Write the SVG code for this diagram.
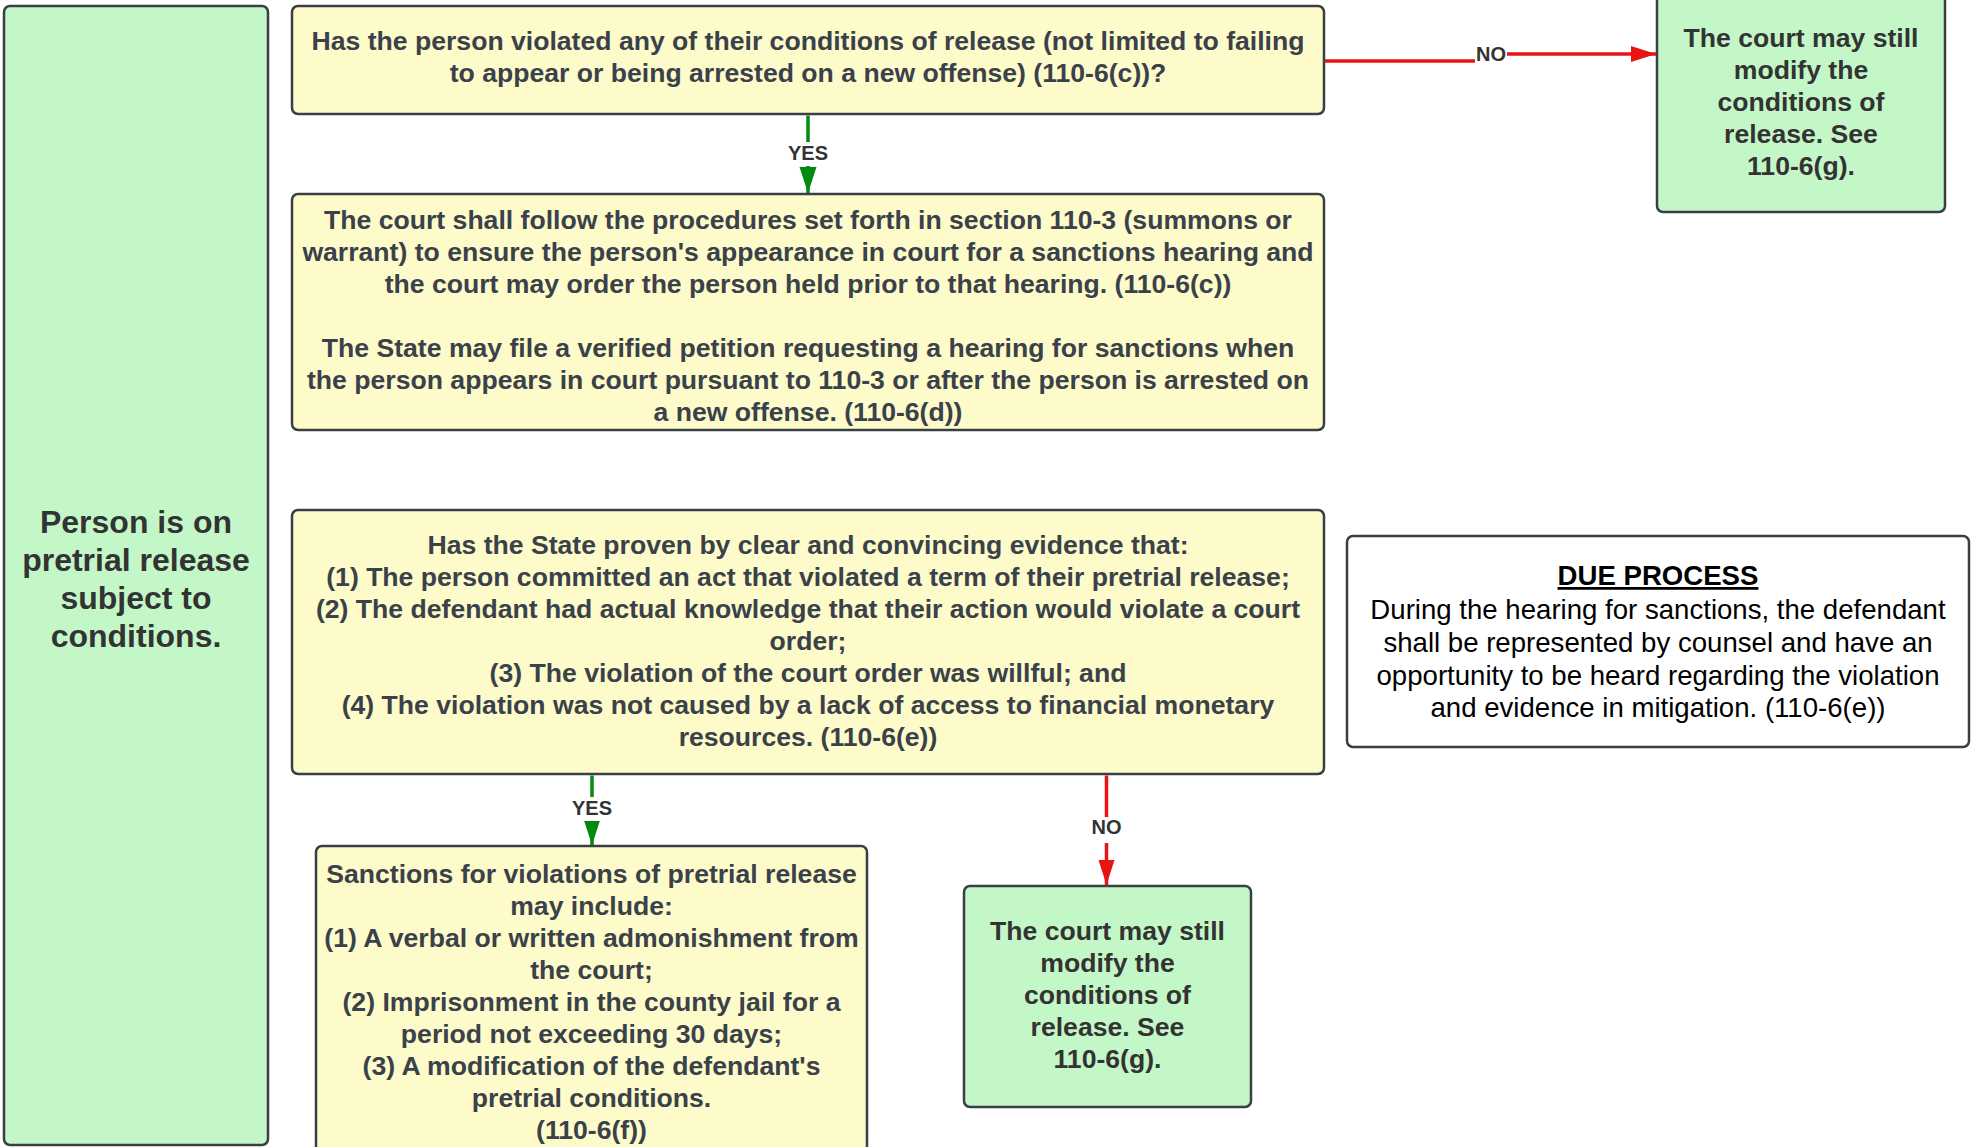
<svg xmlns="http://www.w3.org/2000/svg" width="1973" height="1147" viewBox="0 0 1973 1147">
<defs>
<style>
.box{stroke:#3a3f45;stroke-width:2.5}
.y{fill:#fcfbc9}
.g{fill:#c3f7c8}
.w{fill:#ffffff}
.t{font-family:"Liberation Sans",Arial,sans-serif;font-weight:bold;font-size:26.6px;fill:#3a414a;text-anchor:middle}
.tg{font-family:"Liberation Sans",Arial,sans-serif;font-weight:bold;font-size:26.6px;fill:#333333;text-anchor:middle}
.big{font-family:"Liberation Sans",Arial,sans-serif;font-weight:bold;font-size:32px;fill:#333333;text-anchor:middle}
.dp{font-family:"Liberation Sans",Arial,sans-serif;font-size:27.6px;fill:#000000;text-anchor:middle}
.lbl{font-family:"Liberation Sans",Arial,sans-serif;font-weight:bold;font-size:20px;fill:#333333;text-anchor:middle}
.gl{stroke:#008a0e;stroke-width:3.5;fill:none}
.rl{stroke:#e81313;stroke-width:3.5;fill:none}
</style>
<marker id="ag" markerUnits="userSpaceOnUse" markerWidth="26" markerHeight="18" refX="26" refY="8.5" orient="auto">
<path d="M0,0 L26,8.5 L0,17 Z" fill="#008a0e"/>
</marker>
<marker id="ar" markerUnits="userSpaceOnUse" markerWidth="25" markerHeight="17" refX="25" refY="8" orient="auto">
<path d="M0,0 L25,8 L0,16 Z" fill="#e81313"/>
</marker>
</defs>
<rect width="1973" height="1147" fill="#ffffff"/>

<g id="node-start">
<rect class="box g" x="4" y="6" width="264" height="1139" rx="6"/>
<text class="big" x="136" y="533">Person is on</text>
<text class="big" x="136" y="571">pretrial release</text>
<text class="big" x="136" y="609">subject to</text>
<text class="big" x="136" y="647">conditions.</text>
</g>

<g id="node-q1">
<rect class="box y" x="292" y="6" width="1032" height="108" rx="6"/>
<text class="t" x="808" y="49.5">Has the person violated any of their conditions of release (not limited to failing</text>
<text class="t" x="808" y="81.5">to appear or being arrested on a new offense) (110-6(c))?</text>
</g>

<g id="node-modify1">
<rect class="box g" x="1657" y="-10" width="288" height="222" rx="6"/>
<text class="tg" x="1801" y="47">The court may still</text>
<text class="tg" x="1801" y="78.5">modify the</text>
<text class="tg" x="1801" y="110.5">conditions of</text>
<text class="tg" x="1801" y="142.5">release. See</text>
<text class="tg" x="1801" y="174.5">110-6(g).</text>
</g>

<g id="node-procedure">
<rect class="box y" x="292" y="194" width="1032" height="236" rx="6"/>
<text class="t" x="808" y="229">The court shall follow the procedures set forth in section 110-3 (summons or</text>
<text class="t" x="808" y="261">warrant) to ensure the person's appearance in court for a sanctions hearing and</text>
<text class="t" x="808" y="293">the court may order the person held prior to that hearing. (110-6(c))</text>
<text class="t" x="808" y="357">The State may file a verified petition requesting a hearing for sanctions when</text>
<text class="t" x="808" y="389">the person appears in court pursuant to 110-3 or after the person is arrested on</text>
<text class="t" x="808" y="421">a new offense. (110-6(d))</text>
</g>

<g id="node-q2">
<rect class="box y" x="292" y="510" width="1032" height="264" rx="6"/>
<text class="t" x="808" y="554">Has the State proven by clear and convincing evidence that:</text>
<text class="t" x="808" y="586">(1) The person committed an act that violated a term of their pretrial release;</text>
<text class="t" x="808" y="618">(2) The defendant had actual knowledge that their action would violate a court</text>
<text class="t" x="808" y="650">order;</text>
<text class="t" x="808" y="682">(3) The violation of the court order was willful; and</text>
<text class="t" x="808" y="714">(4) The violation was not caused by a lack of access to financial monetary</text>
<text class="t" x="808" y="746">resources. (110-6(e))</text>
</g>

<g id="node-dueprocess">
<rect class="box w" x="1347" y="536" width="622" height="211" rx="6"/>
<text class="dp" x="1658" y="585" font-weight="bold" text-decoration="underline">DUE PROCESS</text>
<text class="dp" x="1658" y="618.5">During the hearing for sanctions, the defendant</text>
<text class="dp" x="1658" y="651.5">shall be represented by counsel and have an</text>
<text class="dp" x="1658" y="684.5">opportunity to be heard regarding the violation</text>
<text class="dp" x="1658" y="717">and evidence in mitigation. (110-6(e))</text>
</g>

<g id="node-sanctions">
<rect class="box y" x="316" y="846" width="551" height="310" rx="6"/>
<text class="t" x="591.5" y="882.5">Sanctions for violations of pretrial release</text>
<text class="t" x="591.5" y="915">may include:</text>
<text class="t" x="591.5" y="946.5">(1) A verbal or written admonishment from</text>
<text class="t" x="591.5" y="978.5">the court;</text>
<text class="t" x="591.5" y="1011">(2) Imprisonment in the county jail for a</text>
<text class="t" x="591.5" y="1043">period not exceeding 30 days;</text>
<text class="t" x="591.5" y="1075">(3) A modification of the defendant's</text>
<text class="t" x="591.5" y="1107">pretrial conditions.</text>
<text class="t" x="591.5" y="1139">(110-6(f))</text>
</g>

<g id="node-modify2">
<rect class="box g" x="964" y="886" width="287" height="221" rx="6"/>
<text class="tg" x="1107.5" y="940">The court may still</text>
<text class="tg" x="1107.5" y="972">modify the</text>
<text class="tg" x="1107.5" y="1003.5">conditions of</text>
<text class="tg" x="1107.5" y="1036">release. See</text>
<text class="tg" x="1107.5" y="1067.5">110-6(g).</text>
</g>

<g id="connectors">
<path class="gl" d="M808,115.5 V193" marker-end="url(#ag)"/>
<rect x="786" y="142" width="44" height="24" fill="#ffffff"/>
<text class="lbl" x="808" y="159.5">YES</text>

<path class="rl" d="M1325,61 H1491 V54 H1656" marker-end="url(#ar)"/>
<rect x="1475" y="44" width="32" height="22" fill="#ffffff"/>
<text class="lbl" x="1491" y="61">NO</text>

<path class="gl" d="M592,775.5 V845" marker-end="url(#ag)"/>
<rect x="570" y="797" width="44" height="24" fill="#ffffff"/>
<text class="lbl" x="592" y="815">YES</text>

<path class="rl" d="M1106.5,775.5 V885" marker-end="url(#ar)"/>
<rect x="1090" y="817" width="33" height="26" fill="#ffffff"/>
<text class="lbl" x="1106.5" y="834">NO</text>
</g>
</svg>
